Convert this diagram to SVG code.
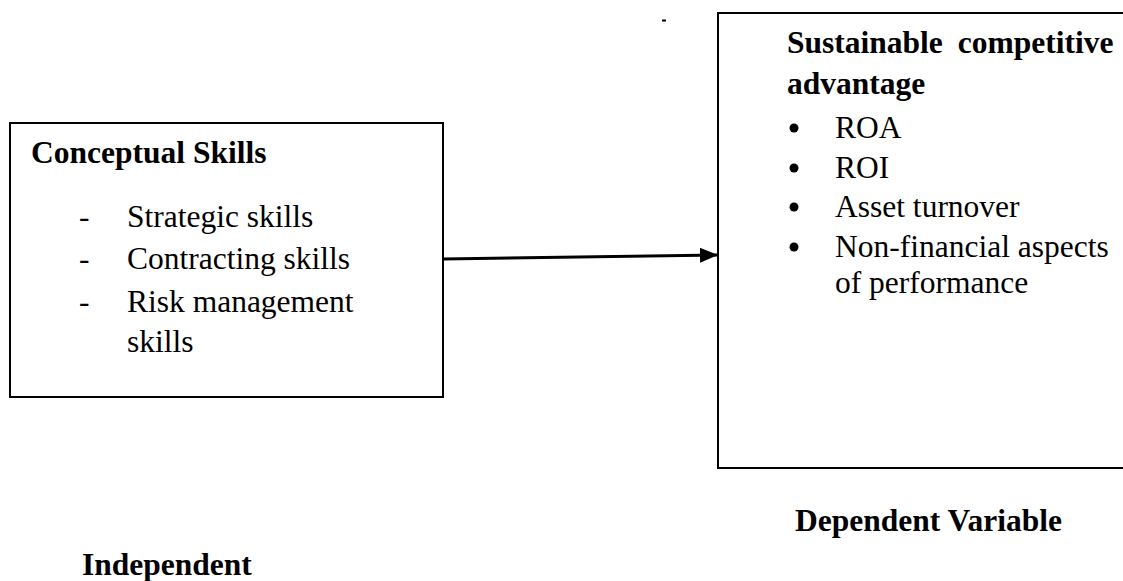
<svg xmlns="http://www.w3.org/2000/svg" width="1123" height="581" viewBox="0 0 1123 581">
<style>
.box{fill:#fff;stroke:#000;stroke-width:2}
.t{font-family:"Liberation Serif","Times New Roman",serif;font-size:31.5px;fill:#000}
.b{font-weight:bold}
</style>
<defs>
<marker id="ah" markerWidth="18" markerHeight="15" refX="18" refY="7.5" orient="auto" markerUnits="userSpaceOnUse">
<path d="M0,0 L18,7.5 L0,15 Z" fill="#000"/>
</marker>
</defs>
<rect width="1123" height="581" fill="#fff"/>
<g id="independent-node">
<rect class="box" x="10" y="123" width="433" height="274"/>
<text class="t b" x="31" y="163">Conceptual Skills</text>
<text class="t" x="79" y="227">-</text>
<text class="t" x="127" y="227">Strategic skills</text>
<text class="t" x="79" y="269">-</text>
<text class="t" x="127" y="269">Contracting skills</text>
<text class="t" x="79" y="312">-</text>
<text class="t" x="127" y="312">Risk management</text>
<text class="t" x="127" y="352">skills</text>
</g>
<g id="dependent-node">
<rect class="box" x="718" y="13" width="450" height="455"/>
<text class="t b" x="787" y="53" word-spacing="7">Sustainable competitive</text>
<text class="t b" x="787" y="94">advantage</text>
<circle cx="794" cy="128" r="4.5"/>
<text class="t" x="835" y="138">ROA</text>
<circle cx="794" cy="168" r="4.5"/>
<text class="t" x="835" y="178">ROI</text>
<circle cx="794" cy="207" r="4.5"/>
<text class="t" x="835" y="217">Asset turnover</text>
<circle cx="794" cy="247" r="4.5"/>
<text class="t" x="835" y="257">Non-financial aspects</text>
<text class="t" x="835" y="293">of performance</text>
</g>
<g id="connectors">
<line x1="443" y1="259" x2="718" y2="255" stroke="#000" stroke-width="3" marker-end="url(#ah)"/>
</g>
<g id="labels">
<rect x="662" y="19.5" width="4" height="2" fill="#000"/>
<text class="t b" x="795" y="531">Dependent Variable</text>
<text class="t b" x="82" y="575">Independent</text>
</g>
</svg>
